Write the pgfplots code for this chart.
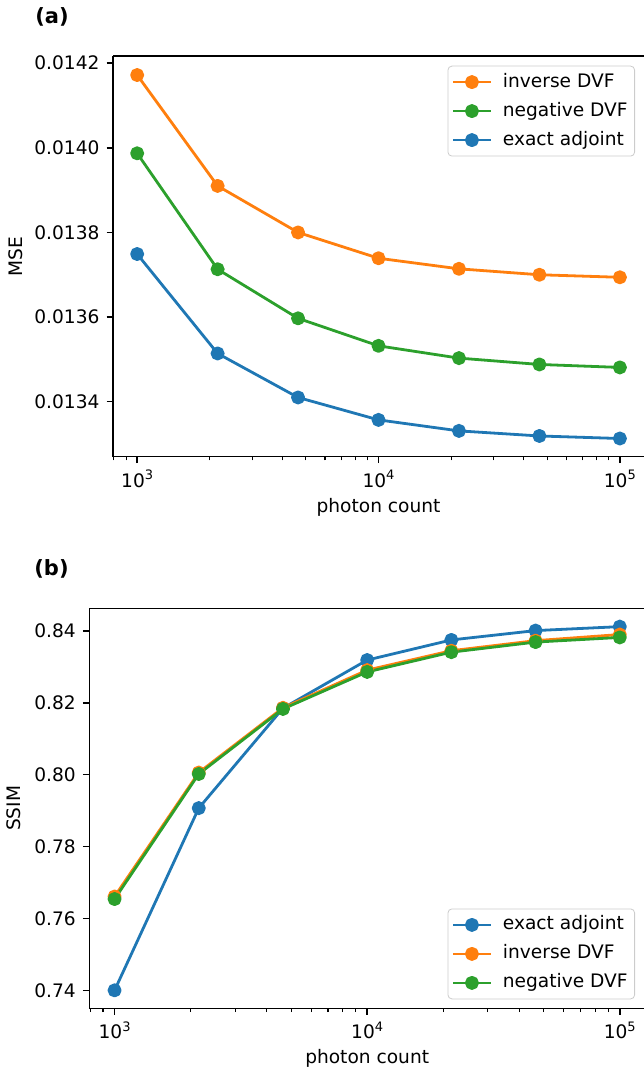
\documentclass[border=0pt]{standalone}
\usepackage{fontspec}
\setmainfont{DejaVu Sans}
\usepackage{pgfplots}
\usepackage{pgfplotstable}
\pgfplotsset{compat=1.18}

\definecolor{tabblue}{HTML}{1F77B4}
\definecolor{taborange}{HTML}{FF7F0E}
\definecolor{tabgreen}{HTML}{2CA02C}

\newcommand{\fs}{\fontsize{9.3}{11.2}\selectfont}
\newcommand{\dec}[1]{10\raisebox{3.7pt}{\fontsize{6.5}{7}\selectfont #1}}

% MSE per photon count
\pgfplotstableread{
x        inv      neg      exact
1000     0.014172 0.013987 0.013749
2154.43  0.013910 0.013713 0.013514
4641.59  0.013800 0.013597 0.013410
10000    0.013739 0.013532 0.013357
21544.3  0.013714 0.013503 0.013331
46415.9  0.013700 0.013488 0.013319
100000   0.013694 0.013481 0.013313
}\msedata

% SSIM per photon count
\pgfplotstableread{
x        exact  inv    neg
1000     0.7400 0.7661 0.7654
2154.43  0.7907 0.8006 0.8002
4641.59  0.8185 0.8186 0.8183
10000    0.8319 0.8291 0.8286
21544.3  0.8375 0.8345 0.8341
46415.9  0.8401 0.8373 0.8369
100000   0.8412 0.8390 0.8382
}\ssimdata

\begin{document}
\begin{tikzpicture}
\begin{axis}[
    scale only axis,
    at={(56.5pt,-228.35pt)}, anchor=south west,
    width=265.5pt, height=200.35pt,
    xmode=log,
    xmin=794.33, xmax=125892.5,
    ymin=0.01327, ymax=0.014217,
    xtick={1000,10000,100000},
    xticklabels={\dec{3},\dec{4},\dec{5}},
    minor xtick={800,900,2000,3000,4000,5000,6000,7000,8000,9000,
                 20000,30000,40000,50000,60000,70000,80000,90000},
    ytick={0.0134,0.0136,0.0138,0.0140,0.0142},
    yticklabel style={/pgf/number format/fixed, /pgf/number format/fixed zerofill,
                      /pgf/number format/precision=4},
    scaled y ticks=false,
    axis x line=box, axis y line*=left,
    xtick pos=bottom, ytick pos=left,
    tick align=outside,
    major tick length=3.26pt, minor tick length=1.86pt,
    major tick style={black, line width=0.74pt},
    minor tick style={black, line width=0.56pt},
    axis line style={black, line width=0.74pt, -},
    font=\fs,
    /pgf/number format/assume math mode=true,
    xlabel={photon count},
    xlabel style={yshift=1.5pt},
    ylabel={MSE},
    ylabel style={yshift=-1pt},
    legend cell align=left,
    legend image code/.code={\draw[mark repeat=2,mark phase=2]
      plot coordinates {(0pt,0pt) (9.3pt,0pt) (18.6pt,0pt)};},
    legend style={font=\fs, draw=black!20, rounded corners=2pt,
      inner xsep=2pt, inner ysep=2pt, row sep=2.5pt,
      nodes={inner sep=1.5pt, text height=7pt, text depth=2pt},
      /tikz/every odd column/.append style={column sep=4pt},
      at={(1,1)}, anchor=north east, xshift=-4.5pt, yshift=-4.85pt},
    every axis plot/.append style={line width=1.4pt, mark=*, mark size=2.8pt,
      line join=round, mark options={solid}}]
  \addplot[color=taborange] table[x=x, y=inv] {\msedata};
  \addlegendentry{inverse DVF}
  \addplot[color=tabgreen] table[x=x, y=neg] {\msedata};
  \addlegendentry{negative DVF}
  \addplot[color=tabblue] table[x=x, y=exact] {\msedata};
  \addlegendentry{exact adjoint}
\end{axis}

\begin{axis}[
    scale only axis,
    at={(44.65pt,-504.15pt)}, anchor=south west,
    width=277.85pt, height=200pt,
    xmode=log,
    xmin=794.33, xmax=125892.5,
    ymin=0.735, ymax=0.8463,
    xtick={1000,10000,100000},
    xticklabels={\dec{3},\dec{4},\dec{5}},
    minor xtick={800,900,2000,3000,4000,5000,6000,7000,8000,9000,
                 20000,30000,40000,50000,60000,70000,80000,90000},
    ytick={0.74,0.76,0.78,0.80,0.82,0.84},
    yticklabel style={/pgf/number format/fixed, /pgf/number format/fixed zerofill,
                      /pgf/number format/precision=2},
    scaled y ticks=false,
    axis x line=box, axis y line*=left,
    xtick pos=bottom, ytick pos=left,
    tick align=outside,
    major tick length=3.26pt, minor tick length=1.86pt,
    major tick style={black, line width=0.74pt},
    minor tick style={black, line width=0.56pt},
    axis line style={black, line width=0.74pt, -},
    font=\fs,
    /pgf/number format/assume math mode=true,
    xlabel={photon count},
    xlabel style={yshift=2pt},
    ylabel={SSIM},
    legend cell align=left,
    legend image code/.code={\draw[mark repeat=2,mark phase=2]
      plot coordinates {(0pt,0pt) (9.3pt,0pt) (18.6pt,0pt)};},
    legend style={font=\fs, draw=black!20, rounded corners=2pt,
      inner xsep=2pt, inner ysep=2pt, row sep=2.5pt,
      nodes={inner sep=1.5pt, text height=7pt, text depth=2pt},
      /tikz/every odd column/.append style={column sep=4pt},
      at={(1,0)}, anchor=south east, xshift=-5pt, yshift=4.5pt},
    every axis plot/.append style={line width=1.4pt, mark=*, mark size=2.8pt,
      line join=round, mark options={solid}}]
  \addplot[color=tabblue] table[x=x, y=exact] {\ssimdata};
  \addlegendentry{exact adjoint}
  \addplot[color=taborange] table[x=x, y=inv] {\ssimdata};
  \addlegendentry{inverse DVF}
  \addplot[color=tabgreen] table[x=x, y=neg] {\ssimdata};
  \addlegendentry{negative DVF}
\end{axis}

\node[anchor=base west, inner sep=0pt, font=\fontsize{10.5}{12}\selectfont\bfseries]
  at (17.5pt,-11.65pt) {(a)};
\node[anchor=base west, inner sep=0pt, font=\fontsize{10.5}{12}\selectfont\bfseries]
  at (17pt,-287.5pt) {(b)};

\pgfresetboundingbox
\useasboundingbox (0pt,0pt) rectangle (321.5pt,-534.5pt);
\end{tikzpicture}
\end{document}
